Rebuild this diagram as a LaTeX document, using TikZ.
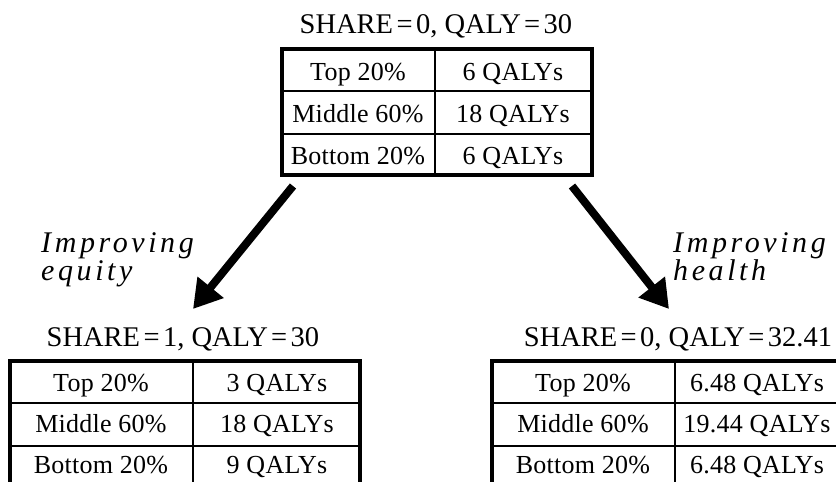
\documentclass[tikz,border=0pt]{standalone}
\usepackage{fontspec}
\setmainfont{Liberation Serif}
\usetikzlibrary{arrows.meta}
\newfontfamily\cellfont[LetterSpace=1]{Liberation Serif}
\newfontfamily\labfont[LetterSpace=12]{Liberation Serif}
\newcommand{\eqs}{\hspace{0.12em}=\hspace{0.12em}}
\tikzset{
  title/.style={font=\fontsize{28.5}{32}\selectfont, inner sep=0pt, anchor=base},
  cell/.style={font=\cellfont\fontsize{26}{28}\selectfont, inner sep=0pt, anchor=base},
  lab/.style={font=\labfont\itshape\fontsize{30}{28}\selectfont, align=left, anchor=base west, inner sep=0pt},
  outer/.style={line width=4pt},
  inner/.style={line width=2pt},
  bigarrow/.style={line width=8pt, -{Triangle[length=28pt,width=32pt]}}
}
\begin{document}
\begin{tikzpicture}[x=1pt,y=-1pt]
\useasboundingbox (0,0) rectangle (836,482);
\clip (0,0) rectangle (836,482);
\fill[white] (0,0) rectangle (836,482);

% ---- top table ----
\node[title] (t0) at (436,33) {SHARE\eqs0, QALY\eqs30};
\draw[inner] (282,91) -- (592,91) (282,134) -- (592,134) (435,49) -- (435,175);
\draw[outer] (282,49) rectangle (592,175);
\node[cell] (t11) at (358,80) {Top 20\%};
\node[cell] (t12) at (513,80) {6 QALYs};
\node[cell] (t21) at (358,122) {Middle 60\%};
\node[cell] (t22) at (513,122) {18 QALYs};
\node[cell] (t31) at (358,164) {Bottom 20\%};
\node[cell] (t32) at (513,164) {6 QALYs};

% ---- left table ----
\node[title] (l0) at (183,346) {SHARE\eqs1, QALY\eqs30};
\draw[inner] (10,403) -- (360,403) (10,446) -- (360,446) (193,361) -- (193,500);
\draw[outer] (10,361) rectangle (360,500);
\node[cell] (l11) at (101,391) {Top 20\%};
\node[cell] (l12) at (277,391) {3 QALYs};
\node[cell] (l21) at (101,432) {Middle 60\%};
\node[cell] (l22) at (277,432) {18 QALYs};
\node[cell] (l31) at (101,473) {Bottom 20\%};
\node[cell] (l32) at (277,473) {9 QALYs};

% ---- right table ----
\node[title] (r0) at (678,346) {SHARE\eqs0, QALY\eqs32.41};
\draw[inner] (492,403) -- (860,403) (492,446) -- (860,446) (675,361) -- (675,500);
\draw[outer] (492,361) rectangle (860,500);
\node[cell] (r11) at (583,391) {Top 20\%};
\node[cell] (r12) at (757,391) {6.48 QALYs};
\node[cell] (r21) at (583,432) {Middle 60\%};
\node[cell] (r22) at (757,432) {19.44 QALYs};
\node[cell] (r31) at (583,473) {Bottom 20\%};
\node[cell] (r32) at (757,473) {6.48 QALYs};

% ---- labels ----
\node[lab] (eq) at (41,280) {Improving\\equity};
\node[lab] (he) at (673,280) {Improving\\health};

% ---- arrows ----
\coordinate (as) at (293,186);
\coordinate (ae) at (193,309);
\coordinate (bs) at (572,186);
\coordinate (be) at (669,309);
\draw[bigarrow] (as) -- (ae);
\draw[bigarrow] (bs) -- (be);
\end{tikzpicture}
\end{document}
